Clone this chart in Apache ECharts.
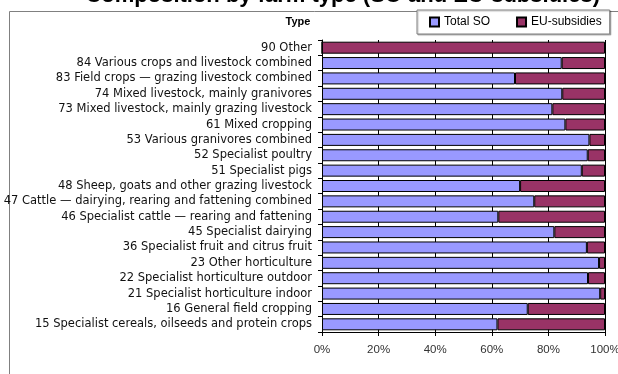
<!DOCTYPE html>
<html>
<head>
<meta charset="utf-8">
<script src="https://cdn.jsdelivr.net/npm/echarts@6/dist/echarts.min.js"></script>
<style>
  html, body { margin: 0; padding: 0; background: #fff; }
  #main { width: 618px; height: 374px; }
</style>
</head>
<body>
<div id="main"></div>
<script>
// farm types, listed top to bottom as in the chart
var categories = [
  '90 Other',
  '84 Various crops and livestock combined',
  '83 Field crops — grazing livestock combined',
  '74 Mixed livestock, mainly granivores',
  '73 Mixed livestock, mainly grazing livestock',
  '61 Mixed cropping',
  '53 Various granivores combined',
  '52 Specialist poultry',
  '51 Specialist pigs',
  '48 Sheep, goats and other grazing livestock',
  '47 Cattle — dairying, rearing and fattening combined',
  '46 Specialist cattle — rearing and fattening',
  '45 Specialist dairying',
  '36 Specialist fruit and citrus fruit',
  '23 Other horticulture',
  '22 Specialist horticulture outdoor',
  '21 Specialist horticulture indoor',
  '16 General field cropping',
  '15 Specialist cereals, oilseeds and protein crops'
];
// shares in %
var totalSO = [0, 84.7, 68.2, 84.9, 81.4, 86.0, 94.5, 93.9, 91.8, 70.0, 75.0, 62.3, 82.1, 93.6, 97.9, 94.0, 98.3, 72.7, 62.0];
var euSubsidies = [100, 15.3, 31.8, 15.1, 18.6, 14.0, 5.5, 6.1, 8.2, 30.0, 25.0, 37.7, 17.9, 6.4, 2.1, 6.0, 1.7, 27.3, 38.0];
var xTicks = [0, 20, 40, 60, 80, 100];

var font = 'Arial, "Liberation Sans", sans-serif';
var wideFont = '"DejaVu Sans", Arial, sans-serif';

var myChart = echarts.init(document.getElementById('main'));
var option = {
  backgroundColor: '#fff',
  animation: false,
  graphic: [
    { // outer chart frame
      type: 'rect', z: -10, silent: true,
      shape: { x: 9.5, y: 11.5, width: 700, height: 500 },
      style: { fill: '#fff', stroke: '#808080', lineWidth: 1 }
    },
    { // big title, mostly cut off at the top
      type: 'text', z: -5, silent: true,
      x: 600, y: 7,
      style: {
        text: 'Composition by farm type (SO and EU-subsidies)',
        align: 'right', verticalAlign: 'bottom',
        font: 'bold 22px ' + font, fill: '#000'
      }
    },
    {
      type: 'text', silent: true,
      x: 298, y: 22,
      style: {
        text: 'Type', align: 'center', verticalAlign: 'middle',
        font: 'bold 11px ' + font, fill: '#000'
      }
    }
  ],
  legend: {
    left: 417, top: 10,
    width: 195,
    padding: [6, 8, 6, 12],
    itemGap: 26,
    itemWidth: 9, itemHeight: 9,
    icon: 'rect',
    backgroundColor: '#fff',
    borderColor: '#808080',
    borderWidth: 1,
    shadowColor: 'rgba(0,0,0,0.25)',
    shadowOffsetX: 1, shadowOffsetY: 1, shadowBlur: 1,
    textStyle: { fontFamily: font, fontSize: 12, color: '#000' },
    data: ['Total SO', 'EU-subsidies']
  },
  grid: { left: 322, right: 13, top: 40, bottom: 42, containLabel: false, outerBoundsMode: 'none' },
  xAxis: {
    type: 'value',
    min: 0, max: 100, interval: 20,
    axisLine: { show: true, lineStyle: { color: '#000', width: 1 } },
    axisTick: { show: true, length: 4, lineStyle: { color: '#000' } },
    splitLine: { show: true, lineStyle: { color: '#000', width: 1 } },
    axisLabel: {
      margin: 12,
      formatter: function (v) { return xTicks.indexOf(v) >= 0 ? v + '%' : ''; },
      fontFamily: font, fontSize: 11.5, color: '#333'
    }
  },
  yAxis: {
    type: 'category',
    inverse: true,
    data: categories,
    axisLine: { show: true, lineStyle: { color: '#000', width: 1 } },
    axisTick: { show: true, length: 4, lineStyle: { color: '#000' } },
    axisLabel: {
      margin: 10, interval: 0,
      fontFamily: wideFont, fontSize: 11.5, color: '#111'
    }
  },
  series: [
    {
      name: 'Total SO', type: 'bar', stack: 'all',
      barCategoryGap: '22%',
      itemStyle: { color: '#9999FF', borderColor: '#000', borderWidth: 1 },
      data: totalSO
    },
    {
      name: 'EU-subsidies', type: 'bar', stack: 'all',
      barCategoryGap: '22%',
      itemStyle: { color: '#993366', borderColor: '#000', borderWidth: 1 },
      data: euSubsidies
    }
  ]
};
myChart.setOption(option);
</script>
</body>
</html>
